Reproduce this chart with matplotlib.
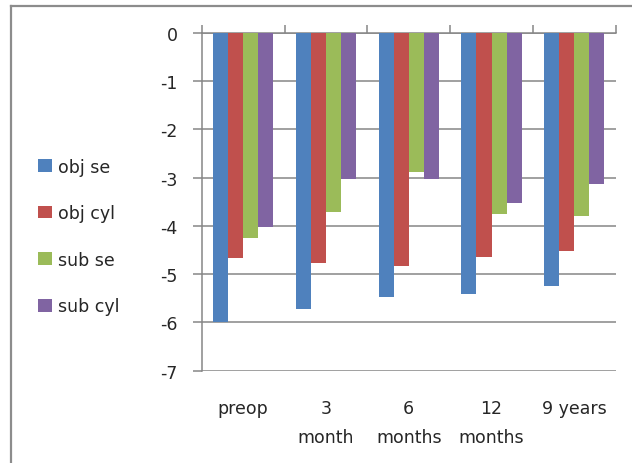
import numpy as np
import matplotlib
matplotlib.use('Agg')
import matplotlib.pyplot as plt
from matplotlib.lines import Line2D

plt.rcParams['font.family'] = ['DejaVu Sans']
plt.rcParams['axes.unicode_minus'] = False

categories = ['preop', '3\nmonth', '6\nmonths', '12\nmonths', '9 years']
obj_se = [-6.0, -5.72, -5.47, -5.40, -5.24]
obj_cyl = [-4.67, -4.76, -4.84, -4.64, -4.52]
sub_se = [-4.24, -3.72, -2.88, -3.76, -3.80]
sub_cyl = [-4.03, -3.03, -3.03, -3.52, -3.12]

series = [('obj se', obj_se, '#4F81BD'),
          ('obj cyl', obj_cyl, '#C0504D'),
          ('sub se', sub_se, '#9BBB59'),
          ('sub cyl', sub_cyl, '#8064A2')]

grid_col = '#868686'
text_col = '#262626'
fs = 12.5

fig = plt.figure(figsize=(6.32, 4.64), dpi=100)
ax = fig.add_axes([201.7 / 632, 1 - 371.7 / 464, 414 / 632, 337.7 / 464])

x = np.arange(len(categories))
w = 1 / 5.5
for i, (name, vals, col) in enumerate(series):
    ax.bar(x + (i - 1.5) * w, vals, width=w, color=col, label=name, zorder=3)

ax.set_xlim(-0.5, len(categories) - 0.5)
ax.set_ylim(-7, 0)
ax.set_yticks(np.arange(0, -8, -1))
ax.yaxis.grid(True, color=grid_col, linewidth=1.1, zorder=0)

ax.set_xticks(x)
ax.set_xticklabels(categories, fontsize=fs, color=text_col, linespacing=1.8)
ax.set_xticks(np.arange(-0.5, len(categories)), minor=True)
ax.tick_params(axis='x', which='major', bottom=False, top=False, pad=17)
ax.tick_params(axis='x', which='minor', bottom=False, top=True, direction='out',
               length=6, width=1.1, color=grid_col)
ax.tick_params(axis='y', direction='out', length=6.5, width=1.1, color=grid_col,
               labelsize=fs, labelcolor=text_col, pad=11)

for s in ['right', 'bottom']:
    ax.spines[s].set_visible(False)
for s in ['left', 'top']:
    ax.spines[s].set_color(grid_col)
    ax.spines[s].set_linewidth(1.1)

fig.legend(loc='center left', bbox_to_anchor=(38 / 632, 1 - 237.5 / 464),
           frameon=False, fontsize=fs, handlelength=0.8, handleheight=0.75,
           handletextpad=0.35, labelspacing=1.65, borderpad=0, borderaxespad=0,
           labelcolor=text_col)

# outer chart frame (left and top edges visible)
fig.add_artist(Line2D([11 / 632, 11 / 632], [0, 1 - 7 / 464], color='#8c8c8c', linewidth=1.6))
fig.add_artist(Line2D([11 / 632, 1], [1 - 7 / 464, 1 - 7 / 464], color='#8c8c8c', linewidth=1.6))

fig.savefig('out.png', dpi=100, facecolor='white')
